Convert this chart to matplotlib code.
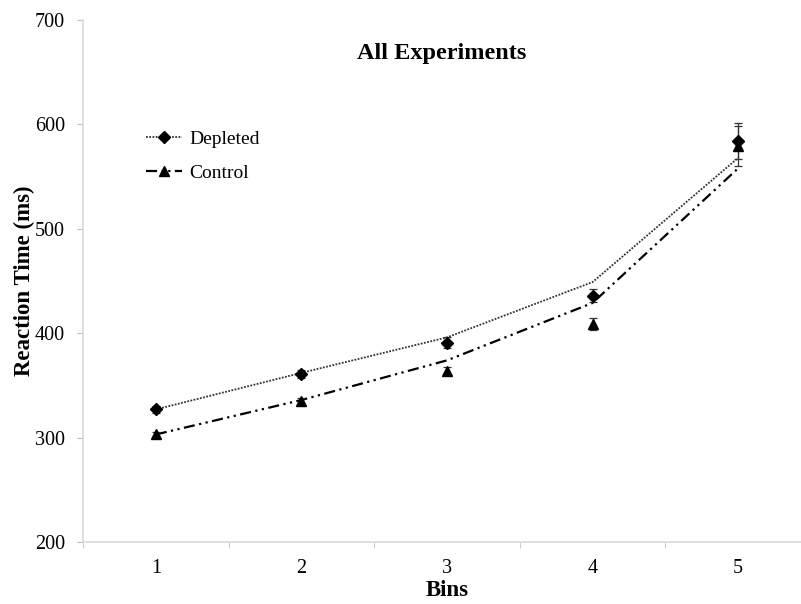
import matplotlib
matplotlib.use("Agg")
import matplotlib.pyplot as plt
from matplotlib.lines import Line2D

bins = [1, 2, 3, 4, 5]
bin_labels = ["1", "2", "3", "4", "5"]

depleted_mean = [327, 361, 391, 436, 584]
depleted_err = [3, 4, 5, 6, 17]
control_mean = [303, 335, 364, 409, 579]
control_err = [2, 3, 4, 6, 19]

depleted_fit = [327, 362, 396, 449, 568]
control_fit = [303, 336, 374, 429, 558]

yticks = [200, 300, 400, 500, 600, 700]

plt.rcParams['font.family'] = ['Liberation Serif', 'DejaVu Serif']

fig = plt.figure(figsize=(8.01, 6.04), dpi=100)
ax_left, ax_right, ax_top, ax_bot = 83, 811, 20, 542
ax = fig.add_axes([ax_left/801, 1-ax_bot/604, (ax_right-ax_left)/801, (ax_bot-ax_top)/604])

dep_ls = (0, (1.0, 0.8))
ctl_ls = (0, (5.0, 2.0, 1.0, 2.0, 1.0, 2.0))

ax.plot(bins, depleted_fit, color='#333333', lw=1.3, linestyle=dep_ls, zorder=2)
ax.plot(bins, control_fit, color='black', lw=1.6, linestyle=ctl_ls, zorder=2)

ax.errorbar(bins, depleted_mean, yerr=depleted_err, fmt='D', color='black',
            ms=6, ecolor='#333333', elinewidth=0.9, capsize=3, capthick=0.9, zorder=3)
ax.errorbar(bins, control_mean, yerr=control_err, fmt='^', color='black',
            ms=7.5, ecolor='#333333', elinewidth=0.9, capsize=3, capthick=0.9, zorder=3)

ax.set_xlim(0.5, 5.5)
ax.set_ylim(200, 700)
ax.set_yticks(yticks)
ax.set_yticklabels([str(t) for t in yticks], fontsize=14.5)
ax.set_xticks(bins)
ax.set_xticklabels(bin_labels, fontsize=14.5)
ax.set_xticks([0.5, 1.5, 2.5, 3.5, 4.5, 5.5], minor=True)
ax.tick_params(axis='x', which='major', length=0, pad=12)
ax.tick_params(axis='x', which='minor', length=4, color='#bfbfbf', direction='out')
ax.tick_params(axis='y', length=4, color='#bfbfbf', pad=9)

for s in ['top', 'right']:
    ax.spines[s].set_visible(False)
for s in ['left', 'bottom']:
    ax.spines[s].set_color('#d9d9d9')
    ax.spines[s].set_linewidth(1.2)

ax.set_xlabel("Bins", fontsize=16.5, fontweight='bold')
ax.xaxis.label.set_va('center')
ax.xaxis.set_label_coords(0.5, -(591-ax_bot)/(ax_bot-ax_top))

ax.set_ylabel("Reaction Time (ms)", fontsize=16.5, fontweight='bold')
ax.yaxis.label.set_va('center')
ax.yaxis.set_label_coords((24-ax_left)/(ax_right-ax_left), 0.5)

fig.text(442/801, 1-53/604, "All Experiments", fontsize=17.5, fontweight='bold',
         ha='center', va='center')

h1 = Line2D([], [], color='#333333', lw=1.3, linestyle=dep_ls, marker='D', ms=6,
            markerfacecolor='black', markeredgecolor='black')
h2 = Line2D([], [], color='black', lw=1.6, linestyle=ctl_ls, marker='^', ms=7.5,
            markerfacecolor='black', markeredgecolor='black')
leg = ax.legend([h1, h2], ["Depleted", "Control"], loc='upper left',
                bbox_to_anchor=(128/801, 1-113/604), bbox_transform=fig.transFigure,
                frameon=False, fontsize=14, handlelength=1.9, handletextpad=0.35,
                labelspacing=0.85)

fig.savefig("out.png", dpi=100)
